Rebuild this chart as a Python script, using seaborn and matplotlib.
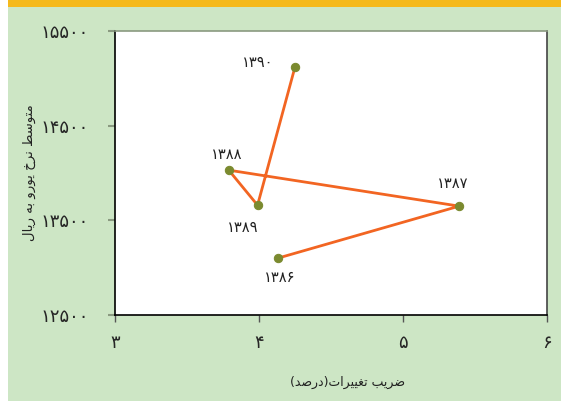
import matplotlib
matplotlib.use("Agg")
import matplotlib.pyplot as plt
import seaborn as sns
import pandas as pd
from matplotlib.patches import Rectangle

# ---- data ----
years = ['۱۳۸۶', '۱۳۸۷', '۱۳۸۸', '۱۳۸۹', '۱۳۹۰']
cv_percent = [4.13, 5.39, 3.79, 3.99, 4.25]
euro_rate = [13100, 13650, 14030, 13660, 15120]
x_ticks = [3, 4, 5, 6]
x_tick_labels = ['۳', '۴', '۵', '۶']
y_ticks = [12500, 13500, 14500, 15500]
y_tick_labels = ['۱۲۵۰۰', '۱۳۵۰۰', '۱۴۵۰۰', '۱۵۵۰۰']
x_title = 'ضریب تغییرات(درصد)'
y_title = 'متوسط نرخ یورو به ریال'

# ---- minimal Persian shaping (matplotlib has no complex text layout) ----
FORMS = {
    'ا': (0xFE8D, 0xFE8E, None, None),
    'ب': (0xFE8F, 0xFE90, 0xFE91, 0xFE92),
    'ت': (0xFE95, 0xFE96, 0xFE97, 0xFE98),
    'خ': (0xFEA5, 0xFEA6, 0xFEA7, 0xFEA8),
    'د': (0xFEA9, 0xFEAA, None, None),
    'ر': (0xFEAD, 0xFEAE, None, None),
    'س': (0xFEB1, 0xFEB2, 0xFEB3, 0xFEB4),
    'ص': (0xFEB9, 0xFEBA, 0xFEBB, 0xFEBC),
    'ض': (0xFEBD, 0xFEBE, 0xFEBF, 0xFEC0),
    'ط': (0xFEC1, 0xFEC2, 0xFEC3, 0xFEC4),
    'غ': (0xFECD, 0xFECE, 0xFECF, 0xFED0),
    'ل': (0xFEDD, 0xFEDE, 0xFEDF, 0xFEE0),
    'م': (0xFEE1, 0xFEE2, 0xFEE3, 0xFEE4),
    'ن': (0xFEE5, 0xFEE6, 0xFEE7, 0xFEE8),
    'ه': (0xFEE9, 0xFEEA, 0xFEEB, 0xFEEC),
    'و': (0xFEED, 0xFEEE, None, None),
    'ی': (0xFBFC, 0xFBFD, 0xFBFE, 0xFBFF),
}


def dual(c):
    return c in FORMS and FORMS[c][2] is not None


def shape(text):
    out = []
    n = len(text)
    for i, c in enumerate(text):
        if c not in FORMS:
            out.append(c)
            continue
        prev = text[i - 1] if i > 0 else ''
        nxt = text[i + 1] if i < n - 1 else ''
        jp = dual(prev)
        jn = dual(c) and nxt in FORMS
        iso, fin, ini, med = FORMS[c]
        if jp and jn:
            f = med
        elif jp:
            f = fin
        elif jn:
            f = ini
        else:
            f = iso
        out.append(chr(f))
    s = ''.join(reversed(out))
    return s.translate(str.maketrans('()', ')('))


# ---- figure ----
sns.set_style("white")
plt.rcParams['font.family'] = ['DejaVu Sans']

W, H = 561, 401
fig = plt.figure(figsize=(W / 100, H / 100), dpi=100)
fig.patch.set_facecolor('#cde6c5')
fig.patches.append(Rectangle((0, 0), 8 / W, 1, transform=fig.transFigure,
                             facecolor='white', edgecolor='none', zorder=0))
fig.patches.append(Rectangle((8 / W, 1 - 7 / H), 1, 7 / H, transform=fig.transFigure,
                             facecolor='#f5b91c', edgecolor='none', zorder=0))

ax = fig.add_axes([115 / W, 1 - 315 / H, 432 / W, 284 / H])
ax.set_facecolor('white')

df = pd.DataFrame({'cv': cv_percent, 'rate': euro_rate, 'year': years})
sns.lineplot(data=df, x='cv', y='rate', sort=False, estimator=None, ax=ax,
             color='#f26522', linewidth=2.0, marker='o', markersize=6,
             markerfacecolor='#7b8a2f', markeredgecolor='#7b8a2f', zorder=3)

offsets = {'۱۳۸۶': (2, -19), '۱۳۸۷': (-6, 23), '۱۳۸۸': (-2, 16),
           '۱۳۸۹': (-15, -22), '۱۳۹۰': (-37, 4)}
for xv, yv, lab in zip(cv_percent, euro_rate, years):
    dx, dy = offsets[lab]
    ax.annotate(lab, (xv, yv), xytext=(dx * 0.72, dy * 0.72), textcoords='offset points',
                ha='center', va='center', fontsize=10.5, color='#222222')

ax.set_xlim(3, 6)
ax.set_ylim(12500, 15500)
ax.set_xticks(x_ticks)
ax.set_xticklabels(x_tick_labels, fontsize=13)
ax.set_yticks(y_ticks)
ax.set_yticklabels(y_tick_labels, fontsize=13)
ax.tick_params(axis='x', length=5, width=1, color='#555555', pad=9, direction='out')
ax.tick_params(axis='y', length=5, width=1.5, color='#8a9a80', pad=14, direction='out')
ax.tick_params(bottom=True, left=True)

for side, col in [('left', 'black'), ('bottom', 'black'), ('top', '#8a9a80'), ('right', '#444444')]:
    ax.spines[side].set_visible(True)
    ax.spines[side].set_color(col)
    ax.spines[side].set_linewidth(1.2)

ax.set_xlabel('')
ax.set_ylabel('')
fig.text(348 / W, 1 - 382 / H, shape(x_title), ha='center', va='center', fontsize=9, color='#222222')
fig.text(29 / W, 1 - 173 / H, shape(y_title), ha='center', va='center', rotation=90,
         fontsize=9.5, color='#222222')

fig.savefig('out.png', dpi=100, facecolor=fig.get_facecolor())
